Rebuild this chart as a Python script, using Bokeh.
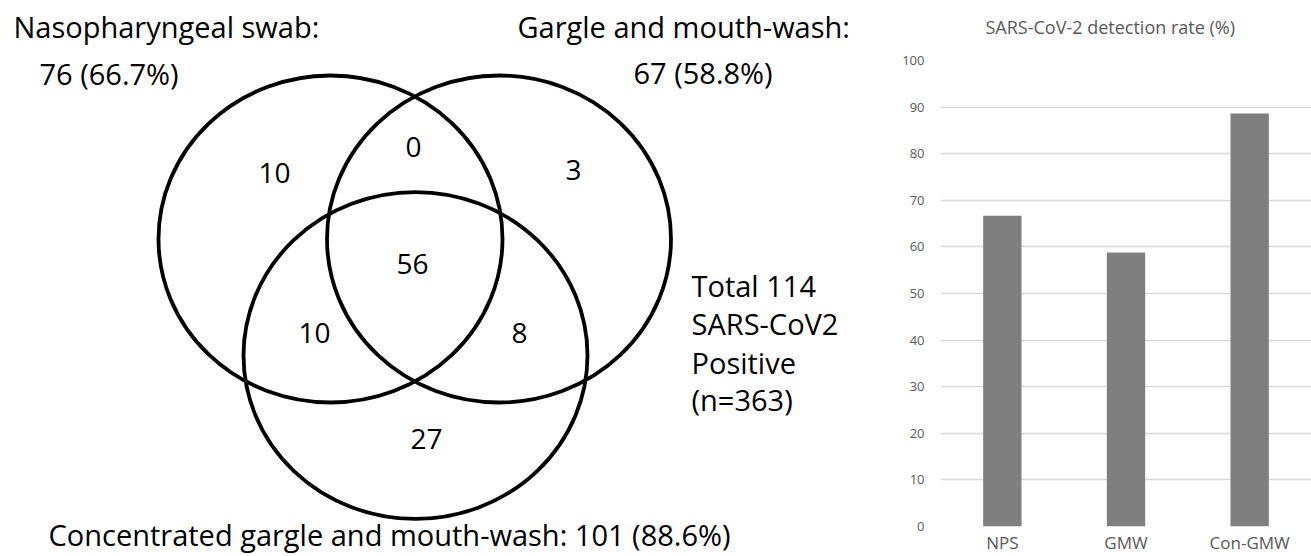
from bokeh.plotting import figure
from bokeh.layouts import row
from bokeh.models import Range1d, FactorRange, FixedTicker, ColumnDataSource, Title
from bokeh.core.properties import value
from bokeh.embed import file_html
from bokeh.resources import INLINE

# ---------------- data ----------------
set_names = ["Nasopharyngeal swab", "Gargle and mouth-wash", "Concentrated gargle and mouth-wash"]
set_totals = [76, 67, 101]
set_pcts = [66.7, 58.8, 88.6]
# region counts: NPS only, NPS&GMW only, GMW only, all three, NPS&Con only, GMW&Con only, Con only
region_counts = [10, 0, 3, 56, 10, 8, 27]
total_positive = 114
n_total = 363

bar_categories = ["NPS", "GMW", "Con-GMW"]
bar_rates = [66.7, 58.8, 88.6]
y_ticks = [0, 10, 20, 30, 40, 50, 60, 70, 80, 90, 100]
bar_title = "SARS-CoV-2 detection rate (%)"

FONT = value("Open Sans")

# ---------------- Venn (pixel coordinate frame) ----------------
VW, VH = 888, 556
venn = figure(width=VW, height=VH, x_range=Range1d(0, VW), y_range=Range1d(VH, 0),
              output_backend="svg", toolbar_location=None, frame_align=False, title=None,
              x_axis_location=None, y_axis_location=None, min_border=0)
venn.outline_line_color = None
venn.xgrid.visible = False
venn.ygrid.visible = False

circle_cx = [330, 498.5, 415]
circle_cy = [238.5, 238.5, 355]
venn.ellipse(x=circle_cx, y=circle_cy, width=344, height=327,
             fill_color=None, line_color="black", line_width=3.8)

region_x = [274, 413, 573, 412, 314, 519, 426]
region_y = [172, 146, 169, 263, 332, 332, 438]
venn.text(x=region_x, y=region_y, text=[str(c) for c in region_counts],
          text_font=FONT, text_font_size="28px", text_align="center",
          text_baseline="middle", text_color="black")

label_src = ColumnDataSource(dict(
    x=[13, 39, 517, 633, 48],
    y=[26, 73, 26, 72, 534],
    t=[set_names[0] + ":", f"{set_totals[0]} ({set_pcts[0]}%)",
       set_names[1] + ":", f"{set_totals[1]} ({set_pcts[1]}%)",
       f"{set_names[2]}: {set_totals[2]} ({set_pcts[2]}%)"],
))
venn.text(x="x", y="y", text="t", source=label_src, text_font=FONT, text_font_size="29px",
          text_align="left", text_baseline="middle", text_color="black")

total_lines = [f"Total {total_positive}", "SARS-CoV2", "Positive", f"(n={n_total})"]
venn.text(x=[691] * 4, y=[285, 323, 362, 399], text=total_lines, text_font=FONT,
          text_font_size="29px", text_align="left", text_baseline="middle",
          text_color="black")

# ---------------- bar chart ----------------
bar = figure(width=1311 - VW, height=556, x_range=FactorRange(*bar_categories), y_range=Range1d(0, 100),
             output_backend="svg", toolbar_location=None, frame_align=False, title=None,
             min_border_left=52, min_border_right=0, min_border_top=60, min_border_bottom=30)
# spacer panel between frame and title (keeps the title high above the plot area)
bar.add_layout(Title(text=" ", text_font_size="12px", standoff=6), "above")
bar.add_layout(Title(text=bar_title, align="left", offset=45, standoff=0,
                     text_font="Open Sans", text_font_size="18px", text_font_style="normal",
                     text_color="#595959"), "above")
bar.outline_line_color = None

bar.vbar(x=bar_categories, top=bar_rates, width=0.31, fill_color="#7f7f7f", line_color=None)

bar.xgrid.visible = False
bar.ygrid.grid_line_color = "#d9d9d9"
bar.ygrid.grid_line_width = 1.3
bar.yaxis.ticker = FixedTicker(ticks=y_ticks)
bar.yaxis.axis_line_color = None
bar.yaxis.major_tick_line_color = None
bar.yaxis.major_tick_out = 0
bar.yaxis.major_tick_in = 0
bar.yaxis.minor_tick_line_color = None
bar.yaxis.major_label_standoff = 16
bar.yaxis.major_label_text_font = "Open Sans"
bar.yaxis.major_label_text_font_size = "13px"
bar.yaxis.major_label_text_color = "#595959"

bar.xaxis.axis_line_color = None
bar.xaxis.major_tick_line_color = None
bar.xaxis.major_tick_out = 0
bar.xaxis.major_tick_in = 0
bar.xaxis.major_label_standoff = 4
bar.xaxis.major_label_text_font = "Open Sans"
bar.xaxis.major_label_text_font_size = "17px"
bar.xaxis.major_label_text_color = "#595959"

layout = row(venn, bar, spacing=0)

open("out.html", "w").write(file_html(layout, INLINE))
